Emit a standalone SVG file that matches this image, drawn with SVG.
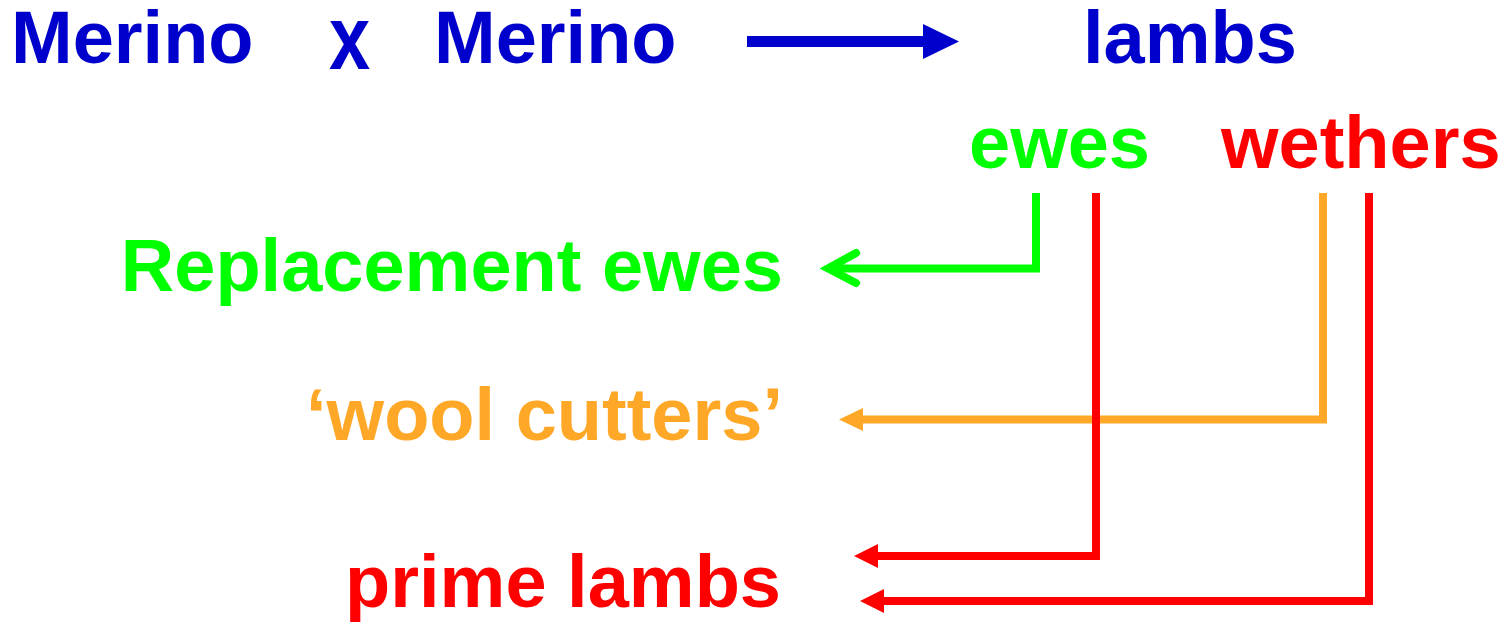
<svg xmlns="http://www.w3.org/2000/svg" width="1510" height="623" viewBox="0 0 1510 623">
  <style>
    text { font-family: "Liberation Sans", Arial, sans-serif; font-weight: bold; font-size: 74px; }
    .blue { fill: #0000CC; }
    .green { fill: #00FF00; }
    .red { fill: #FF0000; }
    .orange { fill: #FFA726; }
    .ln { fill: none; stroke-width: 8; stroke-linejoin: miter; }
  </style>
  <rect width="1510" height="623" fill="#FFFFFF"/>

  <g id="merino-sire"><text class="blue" x="11" y="63">Merino</text></g>
  <!-- the cross sign is drawn a little taller than the lower-case letters -->
  <g id="cross"><text class="blue" transform="translate(329,69) scale(1,1.22)">x</text></g>
  <g id="merino-dam"><text class="blue" x="434" y="63">Merino</text></g>
  <g id="lambs"><text class="blue" x="1083" y="63">lambs</text></g>
  <g id="ewes"><text class="green" x="969" y="168">ewes</text></g>
  <g id="wethers"><text class="red" x="1221" y="168">wethers</text></g>
  <g id="replacement-ewes"><text class="green" x="783" y="291" text-anchor="end">Replacement ewes</text></g>
  <g id="wool-cutters"><text class="orange" x="783" y="440" text-anchor="end">‘wool cutters’</text></g>
  <g id="prime-lambs"><text class="red" x="781" y="607" text-anchor="end">prime lambs</text></g>

  <g id="connectors">
    <!-- breeding arrow -->
    <rect x="747" y="36" width="178" height="11" fill="#0000CC"/>
    <polygon points="923,24 959,41.5 923,59" fill="#0000CC"/>

    <!-- ewes to replacement ewes -->
    <polyline class="ln" stroke="#00FF00" points="1036,193 1036,268.5 828,268.5"/>
    <polyline fill="none" stroke="#00FF00" stroke-width="8" stroke-linecap="round" stroke-linejoin="miter" points="856,253 828,268.5 856,283"/>

    <!-- wethers to wool cutters -->
    <polyline class="ln" stroke="#FFA726" points="1323,193 1323,419.5 860,419.5"/>
    <polygon points="839,419.5 863,408 863,431" fill="#FFA726"/>

    <!-- ewes to prime lambs -->
    <polyline class="ln" stroke="#FF0000" points="1096,193 1096,556 872,556"/>
    <polygon points="854,556 878,544 878,568" fill="#FF0000"/>

    <!-- wethers to prime lambs -->
    <polyline class="ln" stroke="#FF0000" points="1369,193 1369,601 878,601"/>
    <polygon points="860,601 884,589 884,613" fill="#FF0000"/>
  </g>
</svg>
